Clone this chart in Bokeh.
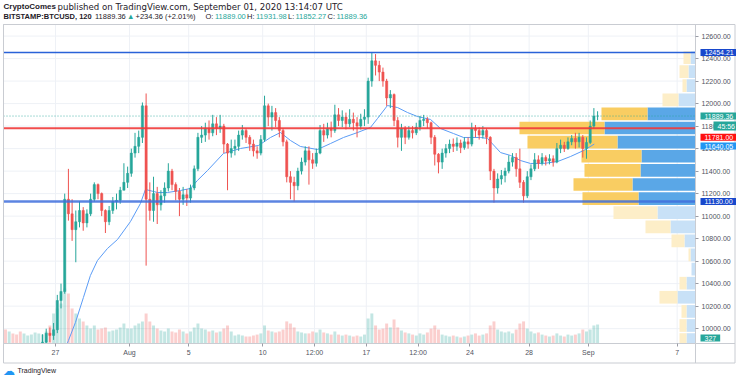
from bokeh.plotting import figure
from bokeh.models import (Range1d, ColumnDataSource, FixedTicker, NumeralTickFormatter,
                          Label, LinearAxis)
from bokeh.embed import file_html
from bokeh.resources import INLINE

# ---------------- data (BITSTAMP:BTCUSD, 6h candles) ----------------
# time axis: days since 1 July 2020 00:00 UTC
candle_start = 22.5       # 23 Jul 12:00
candle_period = 0.25      # 6 hours
first_open = 9590

closes = [
    9570, 9610,                      # Jul 23
    9580, 9560, 9530, 9550,          # Jul 24
    9600, 9640, 9680, 9700,          # Jul 25
    9880, 9960, 9940, 9990,          # Jul 26
    10250, 10330, 11150, 11020,      # Jul 27
    10880, 10950, 11050, 10940,      # Jul 28
    11020, 11150, 11280, 11200,      # Jul 29
    11050, 10950, 11050, 11130,      # Jul 30
    11140, 11230, 11300, 11380,      # Jul 31
    11560, 11620, 11700, 11980,      # Aug 1
    11150, 11050, 11200, 11100,      # Aug 2
    11180, 11250, 11400, 11280,      # Aug 3
    11220, 11150, 11190, 11160,      # Aug 4
    11250, 11420, 11700, 11720,      # Aug 5
    11780, 11740, 11820, 11780,      # Aug 6
    11800, 11640, 11560, 11600,      # Aug 7
    11620, 11720, 11760, 11700,      # Aug 8
    11640, 11580, 11560, 11680,      # Aug 9
    11980, 11880, 11920, 11850,      # Aug 10
    11760, 11660, 11350, 11300,      # Aug 11
    11270, 11400, 11480, 11580,      # Aug 12
    11500, 11470, 11560, 11760,      # Aug 13
    11720, 11780, 11760, 11900,      # Aug 14
    11850, 11880, 11820, 11860,      # Aug 15
    11830, 11800, 11860, 11880,      # Aug 16
    12200, 12380, 12340, 12280,      # Aug 17
    12200, 12050, 12080, 11850,      # Aug 18
    11700, 11780, 11700, 11760,      # Aug 19
    11740, 11790, 11850, 11860,      # Aug 20
    11830, 11700, 11550, 11480,      # Aug 21
    11560, 11600, 11640, 11620,      # Aug 22
    11650, 11610, 11660, 11640,      # Aug 23
    11780, 11760, 11720, 11760,      # Aug 24
    11700, 11400, 11250, 11330,      # Aug 25
    11360, 11400, 11480, 11520,      # Aug 26
    11420, 11300, 11180, 11350,      # Aug 27
    11420, 11500, 11470, 11520,      # Aug 28
    11490, 11510, 11480, 11600,      # Aug 29
    11630, 11600, 11660, 11690,      # Aug 30
    11660, 11700, 11600, 11655,      # Aug 31
    11800, 11889.00, 11889.36,       # Sep 1
]
highs = [
    9620, 9650,
    9640, 9610, 9590, 9600,
    9640, 9690, 9720, 9740,
    9950, 10000, 10010, 10050,
    10300, 10400, 11200, 11420,
    11150, 11050, 11130, 11080,
    11060, 11200, 11300, 11290,
    11210, 11060, 11090, 11170,
    11200, 11260, 11470, 11440,
    11600, 11740, 11760, 12010,
    12090, 11300, 11350, 11260,
    11230, 11300, 11470, 11420,
    11300, 11250, 11260, 11240,
    11280, 11450, 11740, 11800,
    11830, 11850, 11900, 11880,
    11900, 11820, 11650, 11680,
    11680, 11760, 11810, 11780,
    11720, 11680, 11620, 11720,
    12070, 12000, 11980, 11960,
    11880, 11780, 11680, 11400,
    11350, 11430, 11520, 11620,
    11620, 11560, 11600, 11810,
    11820, 11830, 11840, 11990,
    11960, 11940, 11920, 11950,
    11920, 11880, 11910, 11950,
    12230, 12454, 12440, 12380,
    12320, 12220, 12120, 12090,
    11880, 11820, 11800, 11800,
    11800, 11830, 11890, 11900,
    11880, 11840, 11720, 11560,
    11600, 11640, 11680, 11690,
    11700, 11680, 11700, 11700,
    11830, 11810, 11790, 11800,
    11780, 11710, 11420, 11380,
    11410, 11430, 11540, 11560,
    11560, 11600, 11320, 11400,
    11460, 11560, 11540, 11560,
    11540, 11550, 11540, 11650,
    11680, 11660, 11700, 11720,
    11740, 11740, 11720, 11700,
    11850, 11960, 11931.98,
]
lows = [
    9520, 9560,
    9540, 9520, 9490, 9500,
    9530, 9580, 9620, 9650,
    9690, 9870, 9880, 9900,
    9960, 10180, 10310, 10960,
    10780, 10590, 10900, 10870,
    10900, 11000, 11130, 11150,
    11000, 10850, 10920, 11020,
    11060, 11110, 11230, 11250,
    11350, 11520, 11560, 11650,
    10560, 10960, 10950, 10930,
    11050, 11120, 11220, 11230,
    11140, 11000, 11100, 11090,
    11120, 11230, 11400, 11650,
    11660, 11680, 11710, 11720,
    11740, 11560, 11230, 11520,
    11540, 11580, 11680, 11650,
    11580, 11530, 11510, 11540,
    11660, 11800, 11760, 11790,
    11700, 11620, 11300, 11150,
    11130, 11230, 11370, 11450,
    11280, 11420, 11440, 11550,
    11660, 11690, 11700, 11740,
    11800, 11790, 11770, 11790,
    11760, 11700, 11770, 11800,
    11820, 12150, 12250, 12200,
    12150, 11980, 11960, 11800,
    11610, 11580, 11640, 11680,
    11690, 11720, 11760, 11800,
    11780, 11640, 11450, 11380,
    11420, 11520, 11560, 11570,
    11580, 11560, 11590, 11600,
    11620, 11700, 11680, 11690,
    11640, 11320, 11120, 11200,
    11280, 11300, 11380, 11440,
    11350, 11250, 11120, 11160,
    11320, 11400, 11420, 11450,
    11450, 11460, 11440, 11470,
    11560, 11570, 11590, 11630,
    11600, 11610, 11520, 11510,
    11640, 11780, 11852.27,
]
volumes = [
    720, 620,
    520, 460, 620, 520,
    410, 460, 570, 520,
    460, 620, 930, 1550,
    1810, 2060, 2840, 2580,
    1810, 1550, 1290, 1140,
    930, 770, 930, 720,
    770, 830, 620, 670,
    720, 830, 1030, 770,
    770, 930, 1030, 1140,
    1550, 1140, 930, 770,
    670, 620, 770, 620,
    570, 720, 620, 520,
    620, 830, 1030, 770,
    720, 620, 670, 570,
    620, 770, 930, 620,
    410, 460, 410, 360,
    360, 410, 460, 520,
    930, 670, 620, 570,
    620, 720, 1140, 1030,
    830, 620, 570, 520,
    520, 620, 570, 720,
    570, 520, 460, 620,
    460, 410, 460, 410,
    360, 410, 360, 460,
    1290, 1550, 930, 720,
    770, 1030, 830, 1240,
    830, 670, 570, 520,
    460, 410, 520, 460,
    570, 770, 930, 720,
    460, 410, 360, 410,
    360, 310, 360, 410,
    460, 520, 410, 460,
    520, 930, 1140, 720,
    620, 570, 620, 520,
    720, 1030, 1140, 770,
    620, 520, 570, 460,
    410, 360, 410, 520,
    410, 360, 460, 410,
    460, 520, 720, 620,
    720, 930, 980,
]

# moving average (blue line), from where it enters the visible price range
ma_time = [26.80, 26.88, 27.35, 27.89, 28.36, 28.84, 29.51, 30.19, 31.07, 31.74, 32.08, 32.89,
           33.57, 34.45, 35.12, 35.59, 36.27, 37.35, 38.50, 39.72, 40.53, 41.20, 41.88, 42.55,
           43.70, 44.58, 45.46, 46.41, 47.28, 47.76, 48.43, 49.11, 49.78, 50.46, 51.34, 52.01,
           52.89, 53.57, 54.72, 55.19, 56.07, 56.74, 57.42, 58.09, 58.97, 59.92, 60.80, 61.68, 62.40]
ma_value = [9868, 9895, 10055, 10277, 10472, 10606, 10712, 10792, 10952, 11112, 11237, 11210,
            11210, 11228, 11246, 11317, 11405, 11557, 11601, 11628, 11699, 11743, 11672, 11619,
            11592, 11645, 11699, 11743, 11788, 11868, 11983, 11965, 11921, 11885, 11859, 11779,
            11734, 11699, 11699, 11690, 11565, 11539, 11494, 11468, 11468, 11485, 11530, 11583, 11640.05]

# visible-range volume profile (rows from top to bottom)
vp_center = [12409, 12284, 12159, 12033, 11908, 11783, 11657, 11532, 11407, 11281, 11156,
             11031, 10905, 10780, 10655, 10529, 10404, 10279, 10153, 10028, 9903]
vp_row_height = 125.3
vp_up = [500, 700, 900, 1700, 4800, 9100, 7800, 5400, 5500, 6300, 5700,
         3800, 2500, 1100, 500, 400, 900, 1800, 900, 900, 900]
vp_down = [700, 900, 400, 1600, 4600, 8500, 9000, 6000, 5600, 5900, 5600,
           4400, 2500, 1300, 200, 0, 700, 1800, 500, 700, 700]
vp_value_area = [0, 0, 0, 0, 1, 1, 1, 1, 1, 1, 1, 0, 0, 0, 0, 0, 0, 0, 0, 0, 0]

# levels and tags
level_top = 12454.21
level_red = 11781.00
level_bottom = 11130.00
last_price = 11889.36
ma_last = 11640.05
last_volume = 327
countdown = "45:56"

price_ticks = [10000, 10200, 10400, 10600, 10800, 11000, 11200, 11400,
               11600, 11800, 12000, 12200, 12400, 12600]
time_ticks = [26, 31, 35, 40, 43.5, 47, 50.5, 54, 58, 62, 68]
time_labels = ["27", "Aug", "5", "10", "12:00", "17", "12:00", "24", "28", "Sep", "7"]

# ---------------- layout (canvas pixels) ----------------
W, H = 736, 380
CL, CR, CT, CB = 3, 695, 24, 343          # chart pane
X0, X1 = 22.49, 69.24                     # visible time range (days)
Y0, Y1 = 9868, 12703                      # visible price range
VOL_TOP = 16460                           # volume that reaches the pane top
ppd = (CR - CL) / (X1 - X0)
ppp = (CB - CT) / (Y1 - Y0)
vpp = VOL_TOP / (CB - CT)


def xd(px):
    return X0 + (px - CL) / ppd


def yd(py):
    return Y0 + (CB - py) / ppp


FONT = "Liberation Sans"
WIDE_FONT = "DejaVu Sans"
UP_C, DN_C = "#26a69a", "#ef5350"
DARK = "#1e2028"
GRID = "#eef1f6"
BORDER = "#c9ccd2"
AXTXT = "#50535e"

p = figure(width=W, height=H, x_range=Range1d(xd(0), xd(W)), y_range=Range1d(yd(H), yd(0)),
           x_axis_location=None, y_axis_location=None, min_border=0,
           output_backend="svg", toolbar_location=None)
p.outline_line_color = None
p.background_fill_color = "white"
p.border_fill_color = "white"
for g in p.grid:
    g.visible = False
p.extra_y_ranges = {"vol": Range1d(-(H - CB) * vpp, VOL_TOP + CT * vpp)}

# grid
p.segment(x0=X0, x1=X1, y0=price_ticks, y1=price_ticks, line_color=GRID, line_width=1)
p.segment(x0=time_ticks, x1=time_ticks, y0=Y0, y1=Y1, line_color=GRID, line_width=1)

# axes drawn at the pane edges
yax = LinearAxis(fixed_location=X1, ticker=FixedTicker(ticks=price_ticks),
                 formatter=NumeralTickFormatter(format="0.00"))
xax = LinearAxis(fixed_location=Y0, ticker=FixedTicker(ticks=time_ticks),
                 major_label_overrides={k: v for k, v in zip(time_ticks, time_labels)})
for ax in (yax, xax):
    ax.axis_line_color = None
    ax.major_label_text_font = FONT
    ax.major_label_text_font_size = "7px"
    ax.major_label_text_color = AXTXT
    ax.major_label_standoff = 3
    ax.major_tick_out = 3
    ax.major_tick_in = 0
    ax.minor_tick_out = 0
    ax.minor_tick_in = 0
    ax.major_tick_line_color = "#9a9da6"
xax.major_label_standoff = 2
p.add_layout(yax, "right")
p.add_layout(xax, "below")

# candles
n = len(closes)
t = [candle_start + candle_period * (i + 0.5) for i in range(n)]
opens = [first_open] + closes[:-1]
col = [UP_C if c >= o else DN_C for o, c in zip(opens, closes)]

vsrc = ColumnDataSource(dict(t=t, v=volumes, col=col))
p.vbar(x="t", width=candle_period * 0.8, top="v", bottom=0, source=vsrc,
       y_range_name="vol", fill_color="col", fill_alpha=0.28, line_color=None)

# volume profile
k = 1480.0
up_l = [X1 - u / k for u in vp_up]
dn_l = [X1 - (u + d) / k for u, d in zip(vp_up, vp_down)]
pad = vp_row_height * 0.05
tops = [c + vp_row_height / 2 - pad for c in vp_center]
bots = [max(c - vp_row_height / 2 + pad, Y0) for c in vp_center]
up_col = ["#5aa7e7" if va else "#c8e1f7" for va in vp_value_area]
dn_col = ["#f9cd62" if va else "#fdeec8" for va in vp_value_area]
psrc = ColumnDataSource(dict(t=tops, b=bots, ul=up_l, dl=dn_l, r=[X1] * len(vp_center),
                             uc=up_col, dc=dn_col))
p.quad(top="t", bottom="b", left="ul", right="r", fill_color="uc", line_color=None, source=psrc)
p.quad(top="t", bottom="b", left="dl", right="ul", fill_color="dc", line_color=None, source=psrc)

# moving average
p.line(ma_time, ma_value, line_color="#5b9cf6", line_width=1)

# candles (only the part inside the visible price range)
vis = [i for i in range(n) if highs[i] > Y0]
csrc = ColumnDataSource(dict(
    t=[t[i] for i in vis],
    h=[highs[i] for i in vis],
    l=[max(lows[i], Y0) for i in vis],
    top=[max(opens[i], closes[i]) for i in vis],
    bot=[max(min(opens[i], closes[i]), Y0) for i in vis],
    col=[col[i] for i in vis]))
p.segment(x0="t", y0="l", x1="t", y1="h", line_color="col", line_width=1, source=csrc)
p.vbar(x="t", width=candle_period * 0.6, top="top", bottom="bot", fill_color="col",
       line_color="col", line_width=0.5, source=csrc)

# horizontal levels
p.segment(x0=X0, x1=X1, y0=last_price, y1=last_price, line_color=UP_C, line_dash="1 2",
          line_width=1, line_alpha=0.8)
p.segment(x0=X0, x1=X1, y0=level_top, y1=level_top, line_color="#2962d8", line_width=1.6)
p.segment(x0=X0, x1=X1, y0=level_red, y1=level_red, line_color="#f03a3a", line_width=2.2,
          line_alpha=0.9)
p.segment(x0=X0, x1=X1, y0=level_bottom, y1=level_bottom, line_color="#3f6fdc",
          line_width=2.6, line_alpha=0.85)

# pane borders
p.quad(left=X0, right=X1, bottom=Y0, top=Y1, fill_color=None, line_color=BORDER, line_width=1)
p.quad(left=X0, right=xd(W - 1.5), bottom=yd(362.5), top=Y1, fill_color=None,
       line_color=BORDER, line_width=1)
p.segment(x0=X1, x1=X1, y0=yd(362.5), y1=Y0, line_color=BORDER, line_width=1)
p.segment(x0=X1, x1=xd(W - 1.5), y0=Y0, y1=Y0, line_color=BORDER, line_width=1)


def tag(y, text, bg, dy=0, dx=5, y_units="data"):
    p.add_layout(Label(x=X1, y=y, x_units="data", y_units=y_units, x_offset=dx, y_offset=dy,
                       text=text, text_color="white", text_font=FONT, text_font_size="7px",
                       text_baseline="middle", text_align="left",
                       background_fill_color=bg, background_fill_alpha=1.0,
                       padding=(4, 1)))


tag(level_top, f"{level_top:.2f}", "#1848cc")
tag(last_price, f"{last_price:.2f}", "#26a69a")
tag(last_price, countdown, "#26a69a", dy=-10, dx=18)
tag(level_red, f"{level_red:.2f}", "#ff1010", dy=-9)
tag(ma_last, f"{ma_last:.2f}", "#2196f3", dy=-2)
tag(level_bottom, f"{level_bottom:.2f}", "#1848cc")
tag(H - 337.5, str(last_volume), "#26a69a", y_units="screen")


def text(x, y, s, color=DARK, bold=False, size="8px", font=FONT):
    # x, y in canvas pixels from the top-left corner
    p.add_layout(Label(x=x, y=H - y, x_units="screen", y_units="screen", text=s,
                       text_color=color, text_font=font, text_font_size=size,
                       text_font_style="bold" if bold else "normal",
                       text_baseline="middle", text_align="left"))


# header
text(3, 6, "CryptoComes", bold=True, size="8px")
text(57, 6, "published on TradingView.com, September 01, 2020 13:14:07 UTC", size="8.6px",
     font=WIDE_FONT)
pieces = [(0, "BITSTAMP:BTCUSD, 120", DARK, True),
          (91.5, "11889.36", DARK, False),
          (123.5, "\u25b2", UP_C, False),
          (132.0, "+234.36 (+2.01%)", DARK, False),
          (202.0, "O:", DARK, False),
          (211.5, "11889.00", UP_C, False),
          (243.5, "H:", DARK, False),
          (252.5, "11931.98", UP_C, False),
          (284.5, "L:", DARK, False),
          (292.0, "11852.27", UP_C, False),
          (324.0, "C:", DARK, False),
          (333.0, "11889.36", UP_C, False)]
for x, s, c, b in pieces:
    text(3 + x, 16, s, color=c, bold=b, size="7.5px")

# footer logo
text(2, 370, "\u2601", color="#2196f3", size="12px")
text(17, 370, "TradingView", color=DARK, size="7px")

open("out.html", "w").write(file_html(p, INLINE))
